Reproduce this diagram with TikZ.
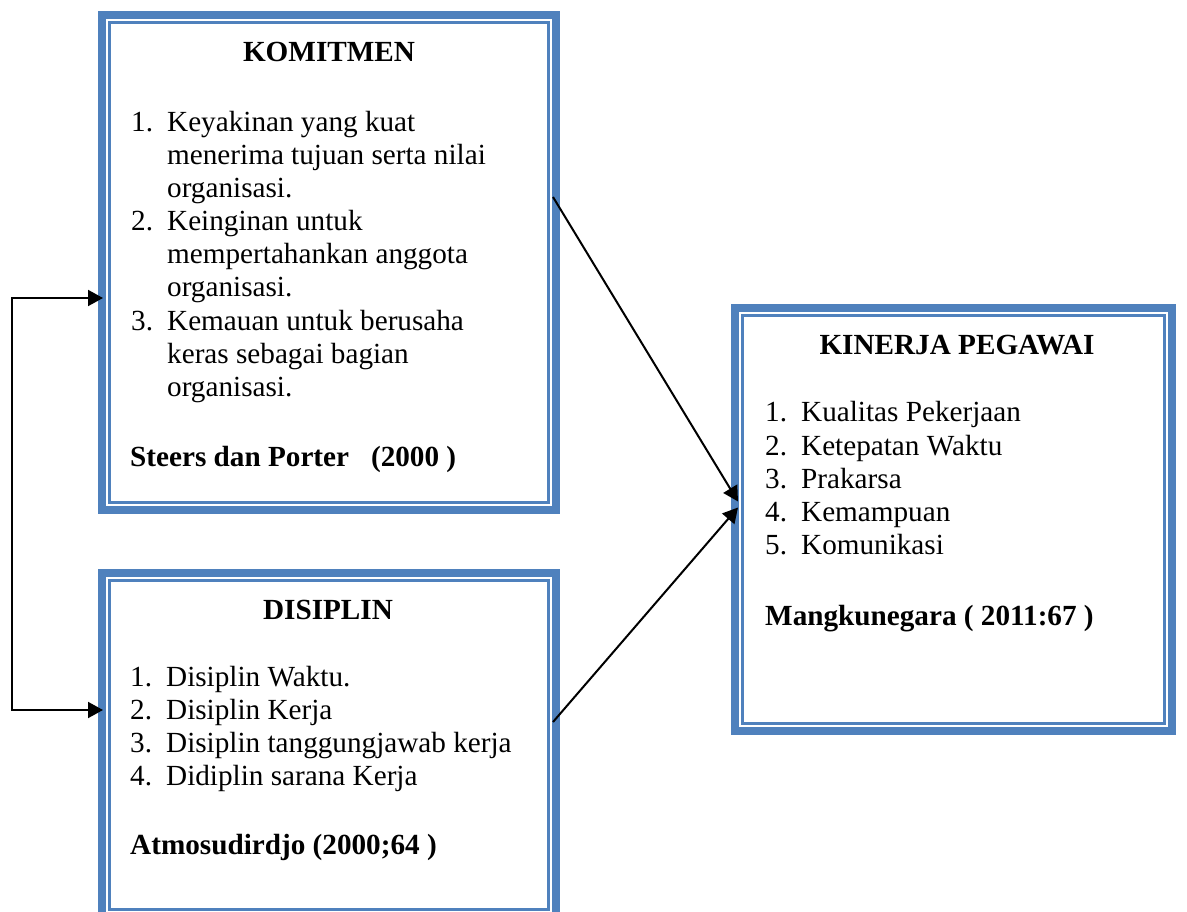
\documentclass[tikz,border=0pt]{standalone}
\usepackage{fontspec}
\setmainfont{Liberation Serif}
\usetikzlibrary{calc,arrows.meta}

\definecolor{frameblue}{HTML}{4F81BD}

\tikzset{
  framebox/.style={rectangle, draw=frameblue, line width=8pt, fill=white,
    inner sep=0pt},
  frameline/.style={draw=frameblue, line width=2.2pt},
  txt/.style={anchor=base west, inner sep=0pt, font=\fontsize{29.2}{33}\selectfont},
  boldtxt/.style={txt, font=\fontsize{29.2}{33}\selectfont\bfseries},
  ttl/.style={anchor=base, inner sep=0pt, font=\fontsize{29.2}{33}\selectfont\bfseries},
  link/.style={draw=black, line width=2pt, -{Triangle[length=15pt,width=16pt]}},
  biglink/.style={draw=black, line width=2pt, {Triangle[length=15pt,width=16pt]}-{Triangle[length=15pt,width=16pt]}},
}
\newcommand{\num}[1]{\makebox[36pt][l]{#1}}

\begin{document}
\begin{tikzpicture}[x=1pt,y=-1pt]
\useasboundingbox (0,0) rectangle (1187,912);
\clip (0,0) rectangle (1187,912);

% the three framed boxes
\node[framebox, minimum width=454pt, minimum height=495pt] (kom) at (329,262.5) {};
\node[framebox, minimum width=454pt, minimum height=344pt] (dis) at (329,745) {};
\node[framebox, minimum width=437pt, minimum height=423pt] (kin) at (953.5,519.5) {};

\foreach \b in {kom,dis,kin}
  \draw[frameline] ($(\b.north west)+(11.5,11.5)$) rectangle ($(\b.south east)+(-11.5,-11.5)$);

% KOMITMEN
\node[ttl] (kom-t) at (329,62) {KOMITMEN};
\foreach \t [count=\i from 0] in {
  {\num{1.}Keyakinan yang kuat},
  {\num{}menerima tujuan serta nilai},
  {\num{}organisasi.},
  {\num{2.}Keinginan untuk},
  {\num{}mempertahankan anggota},
  {\num{}organisasi.},
  {\num{3.}Kemauan untuk berusaha},
  {\num{}keras sebagai bagian},
  {\num{}organisasi.}}
  \node[txt] (kom-l\i) at (131,131.5+33.1*\i) {\t};
\node[boldtxt] (kom-s) at (130,466) {Steers dan Porter~~~(2000~)};

% DISIPLIN
\node[ttl] (dis-t) at (328,619) {DISIPLIN};
\foreach \t [count=\i from 0] in {
  {\num{1.}Disiplin Waktu.},
  {\num{2.}Disiplin Kerja},
  {\num{3.}Disiplin tanggungjawab kerja},
  {\num{4.}Didiplin sarana Kerja}}
  \node[txt] (dis-l\i) at (130,686.5+33.1*\i) {\t};
\node[boldtxt] (dis-s) at (130,854) {Atmosudirdjo (2000;64~)};

% KINERJA PEGAWAI
\node[ttl] (kin-t) at (957,355) {KINERJA PEGAWAI};
\foreach \t [count=\i from 0] in {
  {\num{1.}Kualitas Pekerjaan},
  {\num{2.}Ketepatan Waktu},
  {\num{3.}Prakarsa},
  {\num{4.}Kemampuan},
  {\num{5.}Komunikasi}}
  \node[txt] (kin-l\i) at (765,421.7+33.3*\i) {\t};
\node[boldtxt] (kin-s) at (765,625) {Mangkunegara ( 2011:67~)};

% connectors
\coordinate (loopx) at (12,0);
\draw[biglink] ($(kom.west)+(5,35.5)$) -- ($(loopx |- kom.west)+(0,35.5)$)
  -- ($(loopx |- dis.west)+(0,-35)$) -- ($(dis.west)+(5,-35)$);
\draw[link] ($(kom.east)+(-7,-65.5)$) -- ($(kin.west)+(7,-18)$);
\draw[link] ($(dis.east)+(-7,-23)$) -- ($(kin.west)+(7,-12)$);
\end{tikzpicture}
\end{document}
